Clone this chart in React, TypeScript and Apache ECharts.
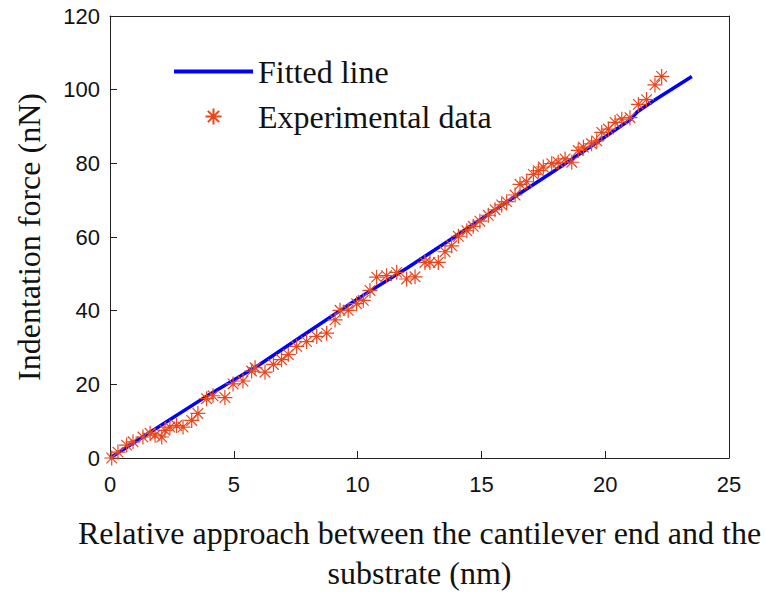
import React, { useEffect, useRef } from "react";
import * as echarts from "echarts";

const xTicks = [0, 5, 10, 15, 20, 25];
const yTicks = [0, 20, 40, 60, 80, 100, 120];

const fitX = [0, 2, 4, 6, 8, 10, 12, 14, 16, 18, 20, 21, 21.3, 22, 23.5];
const fitY = [0, 8.6, 17.2, 25.2, 34.2, 43.2, 51.6, 60.4, 69.4, 78.2, 87.2, 91.8, 94.0, 97.2, 103.6];

const expX = [
  0.07, 0.32, 0.67, 0.93, 1.33, 1.62, 1.82, 2.09, 2.22, 2.42, 2.69, 2.95, 3.3, 3.55, 3.9, 4.16, 4.64, 4.97, 5.37, 5.72,
  5.86, 6.26, 6.6, 6.93, 7.2, 7.54, 7.94, 8.35, 8.75, 9.09, 9.29, 9.62, 9.96, 10.23, 10.5, 10.77, 11.17, 11.58, 11.98,
  12.32, 12.72, 12.92, 13.26, 13.53, 13.8, 14.07, 14.41, 14.67, 14.94, 15.28, 15.55, 15.82, 16.02, 16.36, 16.56, 16.83,
  17.1, 17.3, 17.5, 17.84, 18.1, 18.38, 18.65, 18.91, 19.12, 19.45, 19.66, 19.86, 20.13, 20.4, 20.67, 21.0, 21.34,
  21.67, 22.01, 22.28,
];
const expY = [
  0, 1.6, 3.5, 4.4, 5.7, 6.7, 6.2, 5.7, 7.5, 8.4, 8.8, 8.4, 10.2, 12.1, 16.1, 16.9, 16.4, 20.1, 20.9, 23.6,
  24.5, 23.3, 25.4, 26.7, 28.1, 30.3, 31.6, 33.0, 33.9, 37.5, 40.1, 40.1, 41.9, 42.8, 45.5, 49.1, 49.5, 50.4, 48.6,
  49.2, 53.1, 53.1, 53.1, 56.0, 57.6, 60.2, 61.7, 62.9, 64.3, 65.9, 67.4, 68.7, 69.6, 71.4, 74.3, 75.0,
  77.0, 78.0, 79.0, 79.9, 80.3, 81.2, 80.3, 83.5, 84.4, 85.3, 86.1, 88.4, 89.3, 91.1, 92.0, 92.4, 96.0,
  97.3, 101.3, 103.6,
];

const STAR = "path://M6,0L6,12M0,6L12,6M1.76,1.76L10.24,10.24M1.76,10.24L10.24,1.76";
const RED = "#E8461E";
const BLUE = "#0000FF";
const SERIF = "'Liberation Serif', 'Times New Roman', serif";
const SANS = "'Liberation Sans', Arial, sans-serif";

export default function App() {
  const ref = useRef<HTMLDivElement>(null);
  useEffect(() => {
    if (!ref.current) return;
    const chart = echarts.init(ref.current, undefined, { renderer: "svg" });
    const fitData = fitX.map((x, i) => [x, fitY[i]]);
    const expData = expX.map((x, i) => [x, expY[i]]);
    chart.setOption({
      animation: false,
      backgroundColor: "#ffffff",
      grid: { left: 110, top: 16, width: 619, height: 448, show: false },
      legend: {
        orient: "vertical",
        left: 172,
        top: 54,
        padding: 0,
        itemWidth: 79,
        itemHeight: 16,
        itemGap: 10,
        selectedMode: false,
        textStyle: { fontFamily: SERIF, fontSize: 32, color: "#111", lineHeight: 35, padding: [0, 0, 0, 0] },
        data: [
          {
            name: "Fitted line",
            itemStyle: { opacity: 0, color: "rgba(0,0,0,0)", borderWidth: 0 },
            lineStyle: { width: 4, color: BLUE },
          },
          { name: "Experimental data" },
        ],
      },
      xAxis: [
        {
          type: "value",
          min: 0,
          max: 25,
          interval: 5,
          position: "bottom",
          name: "Relative approach between the cantilever end and the\nsubstrate (nm)",
          nameLocation: "middle",
          nameGap: 55,
          nameTextStyle: { fontFamily: SERIF, fontSize: 32, color: "#111", lineHeight: 40 },
          axisLine: { show: true, lineStyle: { color: "#222", width: 1 } },
          axisTick: { show: true, inside: true, length: 7, lineStyle: { color: "#222" } },
          axisLabel: { fontFamily: SANS, fontSize: 22, color: "#111", margin: 15 },
          splitLine: { show: false },
        },
        {
          type: "value",
          min: 0,
          max: 25,
          position: "top",
          axisLine: { show: true, onZero: false, lineStyle: { color: "#222", width: 1 } },
          axisTick: { show: false },
          axisLabel: { show: false },
          splitLine: { show: false },
        },
      ],
      yAxis: [
        {
          type: "value",
          min: 0,
          max: 120,
          interval: 20,
          position: "left",
          name: "Indentation force (nN)",
          nameLocation: "middle",
          nameGap: 64,
          nameTextStyle: { fontFamily: SERIF, fontSize: 32, color: "#111", lineHeight: 34 },
          axisLine: { show: true, lineStyle: { color: "#222", width: 1 } },
          axisTick: { show: true, inside: true, length: 7, lineStyle: { color: "#222" } },
          axisLabel: { fontFamily: SANS, fontSize: 22, color: "#111", margin: 10 },
          splitLine: { show: false },
        },
        {
          type: "value",
          min: 0,
          max: 120,
          position: "right",
          axisLine: { show: true, onZero: false, lineStyle: { color: "#222", width: 1 } },
          axisTick: { show: false },
          axisLabel: { show: false },
          splitLine: { show: false },
        },
      ],
      series: [
        {
          name: "Fitted line",
          type: "line",
          data: fitData,
          showSymbol: false,
          symbol: "none",
          lineStyle: { color: BLUE, width: 3.5 },
          itemStyle: { color: BLUE },
          silent: true,
          z: 2,
        },
        {
          name: "Experimental data",
          type: "scatter",
          data: expData,
          symbol: STAR,
          symbolSize: 15,
          itemStyle: { color: "rgba(0,0,0,0)", borderColor: RED, borderWidth: 1.2, opacity: 1 },
          emphasis: { disabled: true },
          silent: true,
          z: 3,
        },
      ],
    });
    return () => chart.dispose();
  }, []);
  return (
    <div
      ref={ref}
      style={{ position: "fixed", left: 0, top: 0, width: 766, height: 598, background: "#fff" }}
    />
  );
}
